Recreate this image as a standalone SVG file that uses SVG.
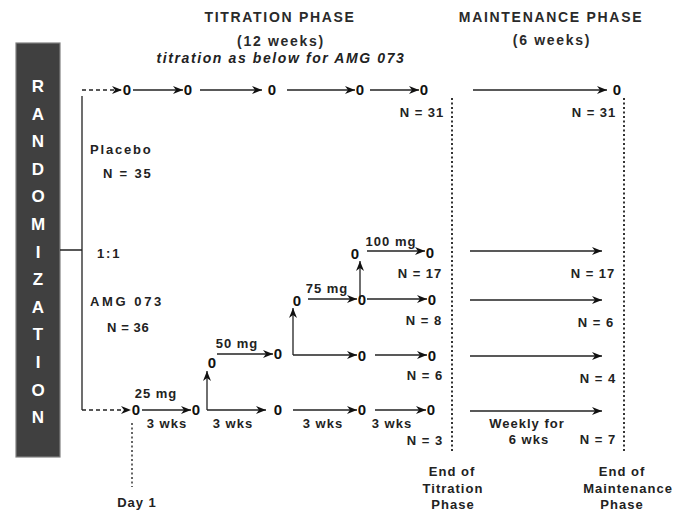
<svg xmlns="http://www.w3.org/2000/svg" width="687" height="511" viewBox="0 0 687 511">
<defs>
<style>
text{font-family:"Liberation Sans",Arial,sans-serif;font-weight:bold;fill:#222}
.h{font-size:14px;letter-spacing:1.7px;text-anchor:middle;fill:#2a2a2a}
.it{font-size:14px;letter-spacing:1.6px;text-anchor:middle;font-style:italic}
.lb{font-size:13px;letter-spacing:1px;text-anchor:middle}
.ll{font-size:13px;letter-spacing:1.8px}
.nd{font-size:15px;text-anchor:middle;fill:#111}
.bar{font-size:17px;text-anchor:middle;fill:#fff}
.ln{fill:none;stroke:#222;stroke-width:1.3}
.ar{marker-end:url(#ah)}
.ds{stroke-dasharray:4 3}
.dt{fill:none;stroke:#333;stroke-width:2;stroke-dasharray:2 2.5}
</style>
<marker id="ah" markerUnits="userSpaceOnUse" markerWidth="11" markerHeight="9" refX="10" refY="4" orient="auto">
<path d="M0,0 L10,4 L0,8 L3,4 z" fill="#111"/>
</marker>
</defs>
<rect width="687" height="511" fill="#fff"/>

<g id="headers">
<text class="h" x="280" y="22">TITRATION PHASE</text>
<text class="h" x="281" y="46">(12 weeks)</text>
<text class="it" x="281" y="63">titration as below for AMG 073</text>
<text class="h" x="551" y="22">MAINTENANCE PHASE</text>
<text class="h" x="552" y="45">(6 weeks)</text>
</g>

<g id="randomization">
<rect x="16" y="43" width="44" height="414" fill="#404040" stroke="#808080" stroke-width="1.2"/>
<text class="bar" x="38" y="92">R</text>
<text class="bar" x="38" y="119.6">A</text>
<text class="bar" x="38" y="147.2">N</text>
<text class="bar" x="38" y="174.8">D</text>
<text class="bar" x="38" y="202.4">O</text>
<text class="bar" x="38" y="230">M</text>
<text class="bar" x="38" y="257.6">I</text>
<text class="bar" x="38" y="285.2">Z</text>
<text class="bar" x="38" y="312.8">A</text>
<text class="bar" x="38" y="340.4">T</text>
<text class="bar" x="38" y="368">I</text>
<text class="bar" x="38" y="395.6">O</text>
<text class="bar" x="38" y="423.2">N</text>
</g>

<g id="arm-labels">
<text class="ll" x="90" y="154">Placebo</text>
<text class="ll" x="103" y="178">N = 35</text>
<text class="ll" x="97" y="258">1:1</text>
<text class="ll" x="90" y="306" style="letter-spacing:2.6px">AMG 073</text>
<text class="ll" x="107" y="332" style="letter-spacing:0.6px">N = 36</text>
</g>

<g id="connectors">
<path class="ln" d="M60,250 H82 M82,96 V410"/>
<path class="ln ds ar" d="M82,90 H122"/>
<path class="ln ds ar" d="M82,410 H131"/>
<path class="ln ar" d="M133,90 H183"/>
<path class="ln ar" d="M200,90 H262"/>
<path class="ln ar" d="M287,90 H355"/>
<path class="ln ar" d="M370,90 H419"/>
<path class="ln ar" d="M473,90 H607"/>
<path class="ln ar" d="M142,410 H191"/>
<path class="ln ar" d="M207,410 V371"/>
<path class="ln ar" d="M207,410 H266"/>
<path class="ln ar" d="M293,410 H357"/>
<path class="ln ar" d="M375,410 H426"/>
<path class="ln ar" d="M217,354 H273"/>
<path class="ln ar" d="M293,355 V308"/>
<path class="ln ar" d="M293,355 H357"/>
<path class="ln ar" d="M375,355 H427"/>
<path class="ln ar" d="M308,299 H357"/>
<path class="ln ar" d="M367,299 H427"/>
<path class="ln ar" d="M360,299 V261"/>
<path class="ln ar" d="M367,251 H425"/>
<path class="ln ar" d="M470,251 H602"/>
<path class="ln ar" d="M470,300 H602"/>
<path class="ln ar" d="M470,356 H602"/>
<path class="ln ar" d="M470,411 H602"/>
<path class="dt" d="M452,98 V452"/>
<path class="dt" d="M624,98 V452"/>
<path class="dt" d="M132,423 V487" style="stroke-width:1.5"/>
</g>

<g id="node-p1"><text class="nd" x="127" y="95">0</text></g>
<g id="node-p2"><text class="nd" x="188" y="95">0</text></g>
<g id="node-p3"><text class="nd" x="272" y="95">0</text></g>
<g id="node-p4"><text class="nd" x="360" y="95">0</text></g>
<g id="node-p5"><text class="nd" x="424" y="95">0</text><text class="lb" x="422" y="117">N = 31</text></g>
<g id="node-p6"><text class="nd" x="617" y="95">0</text><text class="lb" x="594" y="117">N = 31</text></g>

<g id="node-a1"><text class="nd" x="136" y="415">0</text><text class="lb" x="156" y="398">25 mg</text></g>
<g id="node-a2"><text class="nd" x="196" y="415">0</text></g>
<g id="node-a3"><text class="nd" x="278" y="415">0</text></g>
<g id="node-a4"><text class="nd" x="362" y="415">0</text></g>
<g id="node-a5"><text class="nd" x="431" y="415">0</text><text class="lb" x="425" y="445">N = 3</text></g>

<g id="node-b1"><text class="nd" x="212" y="368">0</text><text class="lb" x="237" y="348">50 mg</text></g>
<g id="node-b2"><text class="nd" x="278" y="359">0</text></g>
<g id="node-b3"><text class="nd" x="362" y="361">0</text></g>
<g id="node-b4"><text class="nd" x="432" y="361">0</text><text class="lb" x="425" y="380">N = 6</text></g>

<g id="node-c1"><text class="nd" x="297" y="306">0</text><text class="lb" x="327" y="293">75 mg</text></g>
<g id="node-c2"><text class="nd" x="362" y="305">0</text></g>
<g id="node-c3"><text class="nd" x="432" y="305">0</text><text class="lb" x="424" y="325">N = 8</text></g>

<g id="node-d1"><text class="nd" x="355" y="259">0</text><text class="lb" x="391" y="246">100 mg</text></g>
<g id="node-d2"><text class="nd" x="430" y="258">0</text><text class="lb" x="420" y="278">N = 17</text></g>

<g id="labels">
<text class="lb" x="167" y="428">3 wks</text>
<text class="lb" x="233" y="428">3 wks</text>
<text class="lb" x="323" y="428">3 wks</text>
<text class="lb" x="392" y="428">3 wks</text>
<text class="lb" x="593" y="278">N = 17</text>
<text class="lb" x="596" y="327">N = 6</text>
<text class="lb" x="598" y="383">N = 4</text>
<text class="lb" x="598" y="444">N = 7</text>
<text class="lb" x="527" y="428">Weekly for</text>
<text class="lb" x="529" y="444">6 wks</text>
<text class="lb" x="137" y="507">Day 1</text>
<text class="lb" x="452" y="476">End of</text>
<text class="lb" x="453" y="493">Titration</text>
<text class="lb" x="453" y="509">Phase</text>
<text class="lb" x="622" y="476">End of</text>
<text class="lb" x="628" y="493">Maintenance</text>
<text class="lb" x="622" y="509">Phase</text>
</g>
</svg>
